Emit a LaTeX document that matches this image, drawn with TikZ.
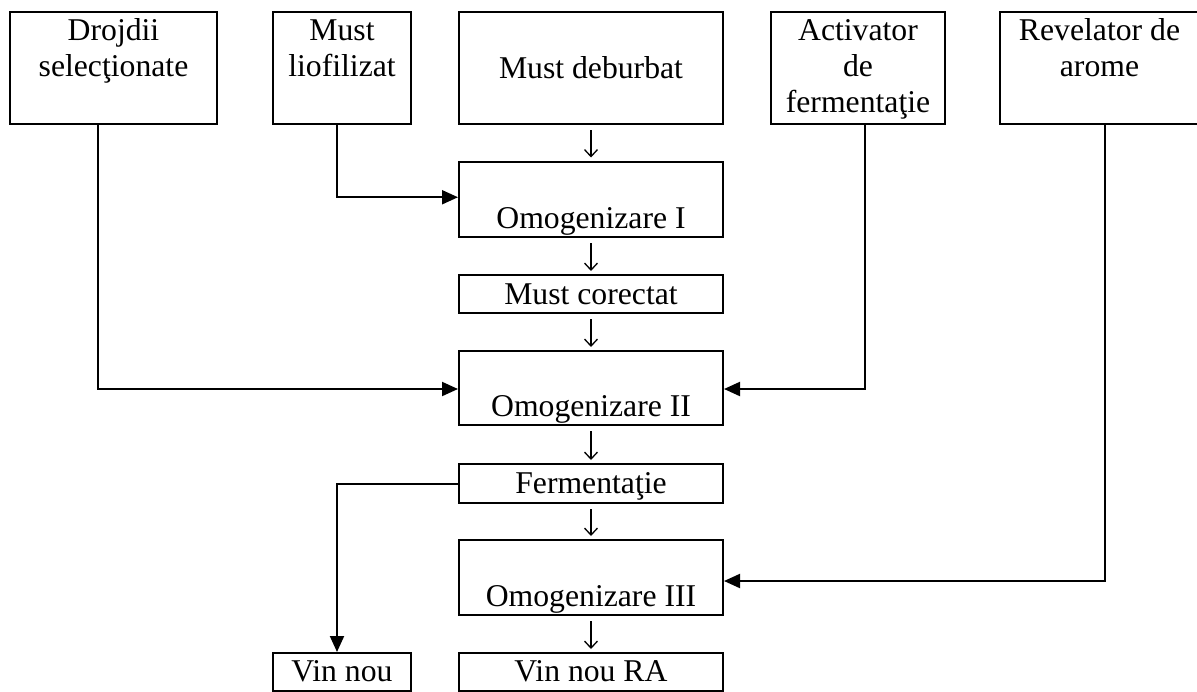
\documentclass[tikz,border=0pt]{standalone}
\usepackage{fontspec}
\setmainfont{Liberation Serif}
\usetikzlibrary{arrows.meta}
\newcommand{\boxfont}{\fontsize{31.7}{36}\selectfont}
\tikzset{
  box/.style={draw, line width=2pt, inner sep=0pt, align=center,
    anchor=north west, font=\boxfont},
  twoline/.style={box, text height=64pt, text depth=48pt},
  flow/.style={line width=2pt, -{Triangle[length=16pt,width=14pt]}},
  stepdown/.style={line width=1.3pt, -{Straight Barb[length=7pt,width=13pt,line width=1.3pt]},
    shorten <=5pt, shorten >=3pt}
}
\begin{document}
\begin{tikzpicture}[x=1pt, y=-1pt]
\useasboundingbox (0,0) rectangle (1197,691);

% inputs along the top
\node[twoline, minimum width=207pt] (drojdii) at (9,11) {Drojdii\\selecţionate};
\node[twoline, minimum width=138pt] (liof) at (272,11) {Must\\liofilizat};
\node[box, minimum width=264pt, text height=66pt, text depth=46pt] (deburbat) at (458,11) {Must deburbat};
\node[box, minimum width=174pt, text height=100pt, text depth=12pt] (activ) at (770,11) {Activator\\de\\fermentaţie};
\node[twoline, minimum width=199pt] (rev) at (999,11) {Revelator de\\arome};

% main process column
\node[box, minimum width=264pt, text height=67pt, text depth=8.5pt] (omog1) at (458,160.5) {Omogenizare I};
\node[box, minimum width=264pt, text height=29pt, text depth=9pt] (corect) at (458,274) {Must corectat};
\node[box, minimum width=264pt, text height=65pt, text depth=9pt] (omog2) at (458,350) {Omogenizare II};
\node[box, minimum width=264pt, text height=29pt, text depth=10pt] (ferm) at (458,463) {Fermentaţie};
\node[box, minimum width=264pt, text height=66pt, text depth=9pt] (omog3) at (458,539) {Omogenizare III};
\node[box, minimum width=138pt, text height=28pt, text depth=10pt] (vinnou) at (272,652) {Vin nou};
\node[box, minimum width=264pt, text height=28pt, text depth=10pt] (vinra) at (458,652) {Vin nou RA};

% small steps down the column
\draw[stepdown] (deburbat.south) -- (omog1.north);
\draw[stepdown] (omog1.south) -- (corect.north);
\draw[stepdown] (corect.south) -- (omog2.north);
\draw[stepdown] (omog2.south) -- (ferm.north);
\draw[stepdown] (ferm.south) -- (omog3.north);
\draw[stepdown] (omog3.south) -- (vinra.north);

% additions feeding the mixing steps
\draw[flow] ([xshift=-5pt]liof.south) |- ([yshift=2pt]omog1.west);
\draw[flow] ([xshift=-15.5pt]drojdii.south) |- ([yshift=-1pt]omog2.west);
\draw[flow] ([xshift=7pt]activ.south) |- ([yshift=-1pt]omog2.east);
\draw[flow] ([xshift=5.5pt]rev.south) |- ([yshift=-3.5pt]omog3.east);

% branch to young wine
\draw[flow] (ferm.west) -| ([xshift=-5pt]vinnou.north);
\end{tikzpicture}
\end{document}
